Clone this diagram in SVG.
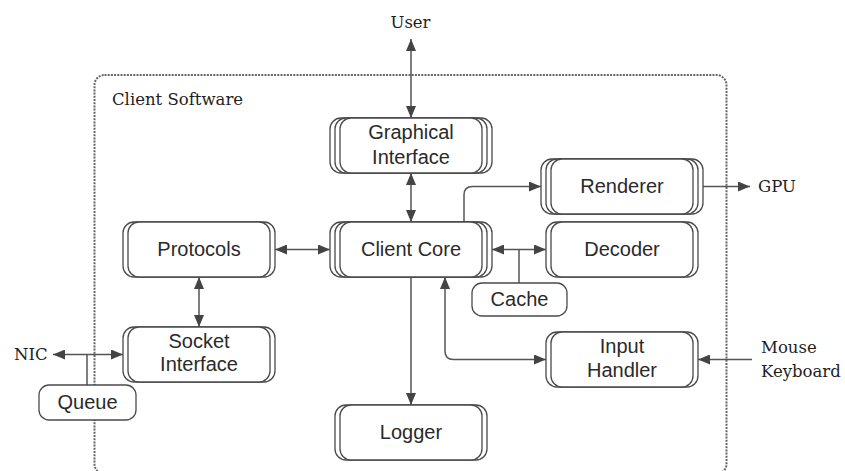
<svg xmlns="http://www.w3.org/2000/svg" width="845" height="471" viewBox="0 0 845 471">
  <defs>
    <style>
      .frame { fill: none; stroke: #666; stroke-width: 2; stroke-dasharray: 2 1.2; }
      .box rect { fill: #fff; stroke: #4a4a4a; stroke-width: 1.3; }
      .lbl { font-family: "Liberation Sans", Arial, sans-serif; font-size: 20px; fill: #2a2a2a; text-anchor: middle; }
      .ext { font-family: "DejaVu Serif", "Liberation Serif", serif; font-size: 16.5px; fill: #1e1e1e; }
      .conn { fill: none; stroke: #555; stroke-width: 1.5; }
      .both { marker-start: url(#ah); marker-end: url(#ah); }
      .end { marker-end: url(#ah); }
    </style>
    <marker id="ah" viewBox="0 0 12 10" refX="12" refY="5" markerWidth="12" markerHeight="10" markerUnits="userSpaceOnUse" orient="auto-start-reverse">
      <path d="M0,0 L12,5 L0,10 z" fill="#444"/>
    </marker>
  </defs>

  <rect width="845" height="471" fill="#fff"/>

  <!-- system boundary -->
  <g id="client-software">
    <rect class="frame" x="94.5" y="75" width="632" height="399" rx="10"/>
    <text class="ext" x="112" y="105">Client Software</text>
  </g>

  <!-- external endpoints -->
  <g id="ext-user"><text class="ext" x="410.5" y="28" text-anchor="middle">User</text></g>
  <g id="ext-gpu"><text class="ext" x="758" y="192">GPU</text></g>
  <g id="ext-nic"><text class="ext" x="14" y="360">NIC</text></g>
  <g id="ext-input">
    <text class="ext" x="761" y="353">Mouse</text>
    <text class="ext" x="761" y="377">Keyboard</text>
  </g>

  <!-- connectors -->
  <g id="connectors">
    <path class="conn both" d="M411,39 V118"/>
    <path class="conn both" d="M411,173 V222"/>
    <path class="conn end" d="M464,222 V195 Q464,186.5 472.5,186.5 H541"/>
    <path class="conn end" d="M703,186.5 H750"/>
    <path class="conn both" d="M275,249.5 H330"/>
    <path class="conn both" d="M199,277 V327"/>
    <path class="conn both" d="M492,249.5 H546"/>
    <path class="conn" d="M519,249.5 V283"/>
    <path class="conn both" d="M445,277 V351 Q445,359.5 453.5,359.5 H546"/>
    <path class="conn end" d="M752,359.5 H698"/>
    <path class="conn end" d="M411,277 V405"/>
    <path class="conn both" d="M53,354.5 H123"/>
    <path class="conn" d="M87,354.5 V385"/>
  </g>

  <!-- nodes -->
  <g id="graphical-interface" class="box">
    <rect x="330" y="118" width="162" height="55" rx="11"/>
    <rect x="335" y="118" width="152" height="55" rx="11"/>
    <rect x="340" y="118" width="142" height="55" rx="11"/>
    <text class="lbl" x="411" y="139">Graphical</text>
    <text class="lbl" x="411" y="163.5">Interface</text>
  </g>

  <g id="client-core" class="box">
    <rect x="330" y="222" width="162" height="55" rx="11"/>
    <rect x="335" y="222" width="152" height="55" rx="11"/>
    <rect x="340" y="222" width="142" height="55" rx="11"/>
    <text class="lbl" x="411" y="256">Client Core</text>
  </g>

  <g id="renderer" class="box">
    <rect x="541" y="159" width="162" height="55" rx="11"/>
    <rect x="546" y="159" width="152" height="55" rx="11"/>
    <rect x="551" y="159" width="142" height="55" rx="11"/>
    <text class="lbl" x="622" y="193">Renderer</text>
  </g>

  <g id="decoder" class="box">
    <rect x="546" y="222" width="152" height="55" rx="11"/>
    <rect x="551" y="222" width="142" height="55" rx="11"/>
    <text class="lbl" x="622" y="256">Decoder</text>
  </g>

  <g id="protocols" class="box">
    <rect x="123" y="222" width="152" height="55" rx="11"/>
    <rect x="128" y="222" width="142" height="55" rx="11"/>
    <text class="lbl" x="199" y="256">Protocols</text>
  </g>

  <g id="socket-interface" class="box">
    <rect x="123" y="327" width="152" height="55" rx="11"/>
    <rect x="128" y="327" width="142" height="55" rx="11"/>
    <text class="lbl" x="199" y="347.5">Socket</text>
    <text class="lbl" x="199" y="371">Interface</text>
  </g>

  <g id="input-handler" class="box">
    <rect x="546" y="332" width="152" height="55" rx="11"/>
    <rect x="551" y="332" width="142" height="55" rx="11"/>
    <text class="lbl" x="622" y="352.5">Input</text>
    <text class="lbl" x="622" y="376.5">Handler</text>
  </g>

  <g id="logger" class="box">
    <rect x="335" y="405" width="152" height="55" rx="11"/>
    <rect x="340" y="405" width="142" height="55" rx="11"/>
    <text class="lbl" x="411" y="438.5">Logger</text>
  </g>

  <g id="cache" class="box">
    <rect x="472" y="283" width="95" height="33" rx="10"/>
    <text class="lbl" x="519.5" y="306">Cache</text>
  </g>

  <g id="queue" class="box">
    <rect x="39" y="385" width="97" height="35" rx="10"/>
    <text class="lbl" x="87.5" y="409">Queue</text>
  </g>
</svg>
